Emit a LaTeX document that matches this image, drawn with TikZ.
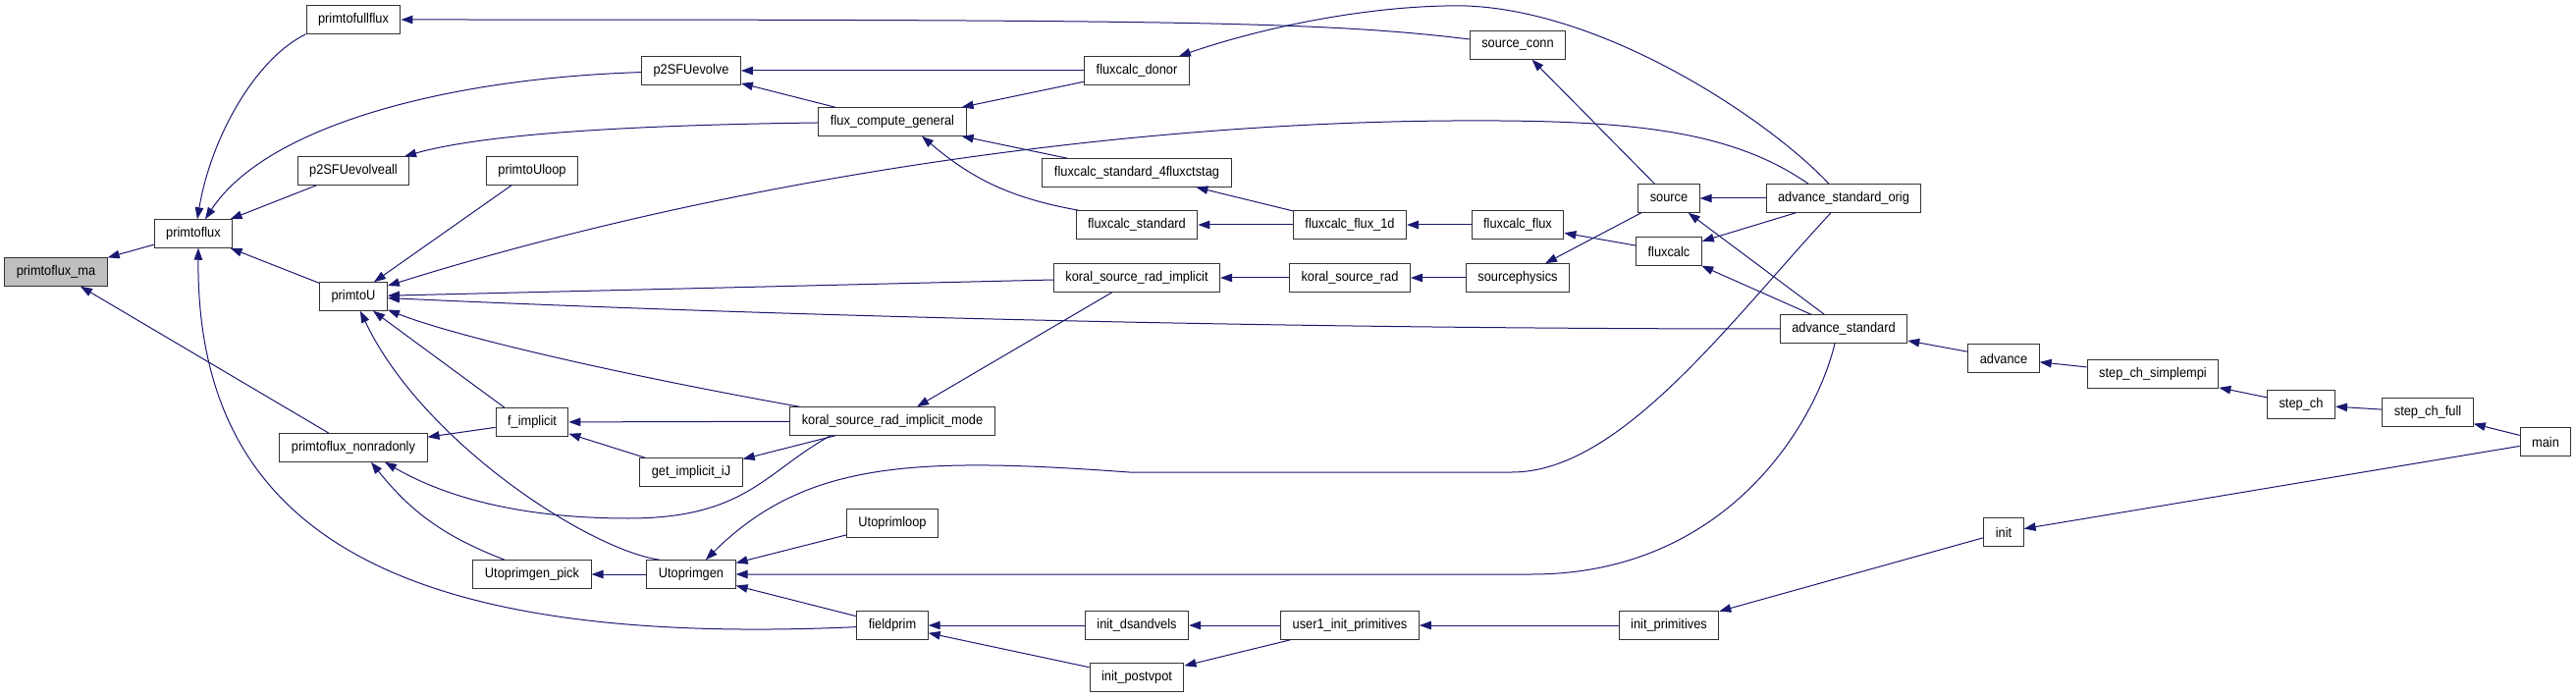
\documentclass[tikz,border=0pt]{standalone}
\usepackage{fontspec}
\setmainfont{Liberation Sans}[FakeStretch=0.915]
\usepackage{tikz}
\usetikzlibrary{arrows.meta}
\definecolor{callblue}{HTML}{191970}

\begin{document}
\begin{tikzpicture}[
    x=1pt, y=-1pt,
    func/.style={draw=black!80, fill=white, line width=1pt, inner xsep=12pt, inner ysep=0pt, minimum height=28.5pt, font=\fontsize{14}{16}\selectfont},
    rootfunc/.style={func, fill=black!25},
    call/.style={-{Triangle[length=12pt,width=8.5pt]}, draw=callblue, line width=1pt}
]
\useasboundingbox (0,0) rectangle (2624,711);

\node[rootfunc] (ma) at (57,277) {primtoflux\_ma};
\node[func] (pflux) at (197,238) {primtoflux};
\node[func] (pfull) at (360,20) {primtofullflux};
\node[func] (p2all) at (360,174) {p2SFUevolveall};
\node[func] (pU) at (360,302) {primtoU};
\node[func] (nonrad) at (360,456) {primtoflux\_nonradonly};
\node[func] (pUloop) at (542,174) {primtoUloop};
\node[func] (fimpl) at (542,430) {f\_implicit};
\node[func] (pick) at (542,585) {Utoprimgen\_pick};
\node[func] (p2) at (704,72) {p2SFUevolve};
\node[func] (iJ) at (704,481) {get\_implicit\_iJ};
\node[func] (Ugen) at (704,585) {Utoprimgen};
\node[func] (fcg) at (909,124) {flux\_compute\_general};
\node[func] (ksrim) at (909,429) {koral\_source\_rad\_implicit\_mode};
\node[func] (Uloop) at (909,533) {Utoprimloop};
\node[func] (fprim) at (909,637) {fieldprim};
\node[func] (donor) at (1158,72) {fluxcalc\_donor};
\node[func] (fcs4) at (1158,176) {fluxcalc\_standard\_4fluxctstag};
\node[func] (fcs) at (1158,229) {fluxcalc\_standard};
\node[func] (ksri) at (1158,283) {koral\_source\_rad\_implicit};
\node[func] (dsv) at (1158,637) {init\_dsandvels};
\node[func] (postv) at (1158,690) {init\_postvpot};
\node[func] (f1d) at (1375,229) {fluxcalc\_flux\_1d};
\node[func] (ksr) at (1375,283) {koral\_source\_rad};
\node[func] (u1) at (1375,637) {user1\_init\_primitives};
\node[func] (sconn) at (1546,46) {source\_conn};
\node[func] (fflux) at (1546,229) {fluxcalc\_flux};
\node[func] (sphys) at (1546,283) {sourcephysics};
\node[func] (source) at (1700,202) {source};
\node[func] (fluxcalc) at (1700,256) {fluxcalc};
\node[func] (iprim) at (1700,637) {init\_primitives};
\node[func] (aso) at (1878,202) {advance\_standard\_orig};
\node[func] (as) at (1878,335) {advance\_standard};
\node[func] (adv) at (2041,365) {advance};
\node[func] (init) at (2041,542) {init};
\node[func] (simplempi) at (2193,381) {step\_ch\_simplempi};
\node[func] (stepch) at (2344,412) {step\_ch};
\node[func] (full) at (2473,420) {step\_ch\_full};
\node[func] (main) at (2593,450) {main};

\draw[call] (pflux) -- (ma);
\draw[call] (nonrad) -- (ma);
\draw[call] (pfull.south west) .. controls (260,60) and (215,140) .. ([xshift=4pt]pflux.north);
\draw[call] (p2) .. controls (450,80) and (270,130) .. ([xshift=12pt]pflux.north);
\draw[call] (p2all) -- (pflux);
\draw[call] (pU) -- (pflux);
\draw[call] (fprim) .. controls (400,660) and (200,540) .. ([xshift=5pt]pflux.south);
\draw[call] (sconn) .. controls (1350,22) and (1200,20) .. (pfull);
\draw[call] (fcg) .. controls (600,128) and (480,140) .. (p2all);
\draw[call] (donor) -- (p2);
\draw[call] (fcg) -- (p2);
\draw[call] (donor) -- (fcg);
\draw[call] (fcs4) -- (fcg);
\draw[call] ([xshift=3pt]fcs.north west) to[bend left=15] ([xshift=30pt]fcg.south);
\draw[call] ([xshift=-15pt]aso.north) .. controls (1800,120) and (1620,0) .. (1472,6) .. controls (1380,8) and (1280,30) .. (donor);
\draw[call] (source) -- (sconn);
\draw[call] (pUloop) -- (pU);
\draw[call] ([xshift=-36pt]aso.north) .. controls (1760,130) and (1650,122) .. (1480,123) .. controls (1150,125) and (750,180) .. (pU);
\draw[call] (ksri) -- (pU);
\draw[call] (as) .. controls (1300,335) and (800,322) .. (pU);
\draw[call] ([xshift=10pt]ksrim.north west) .. controls (650,385) and (470,345) .. (pU);
\draw[call] ([xshift=-28pt]fimpl.north) -- (pU);
\draw[call] ([xshift=-32pt]Ugen.north) .. controls (600,560) and (430,450) .. (pU);
\draw[call] (fimpl) -- (nonrad);
\draw[call] ([xshift=-63pt]ksrim.south) .. controls (780,480) and (760,528) .. (640,528) .. controls (540,528) and (460,510) .. ([xshift=32pt]nonrad.south);
\draw[call] ([xshift=-28pt]pick.north) to[bend left=15] ([xshift=18pt]nonrad.south);
\draw[call] (ksrim) -- (fimpl);
\draw[call] (iJ) -- (fimpl);
\draw[call] (ksrim) -- (iJ);
\draw[call] (ksri) -- (ksrim);
\draw[call] (ksr) -- (ksri);
\draw[call] (sphys) -- (ksr);
\draw[call] (source) -- (sphys);
\draw[call] (f1d) -- (fcs4);
\draw[call] (f1d) -- (fcs);
\draw[call] (fflux) -- (f1d);
\draw[call] (fluxcalc) -- (fflux);
\draw[call] (aso) -- (source);
\draw[call] (as) -- (source);
\draw[call] (aso) -- (fluxcalc);
\draw[call] (as) -- (fluxcalc);
\draw[call] (adv) -- (as);
\draw[call] (simplempi) -- (adv);
\draw[call] (stepch) -- (simplempi);
\draw[call] (full) -- (stepch);
\draw[call] (main) -- (full);
\draw[call] (main) -- (init);
\draw[call] (init) -- (iprim);
\draw[call] (iprim) -- (u1);
\draw[call] (u1) -- (dsv);
\draw[call] (u1) -- (postv);
\draw[call] (dsv) -- (fprim);
\draw[call] (postv) -- (fprim);
\draw[call] (fprim) -- (Ugen);
\draw[call] (Uloop) -- (Ugen);
\draw[call] ([xshift=-13pt]aso.south) .. controls (1760,330) and (1650,481) .. (1540,481) -- (1150,481) .. controls (930,465) and (820,470) .. (Ugen);
\draw[call] ([xshift=-9pt]as.south) .. controls (1850,430) and (1760,585) .. (1560,585) -- (Ugen);
\draw[call] (Ugen) -- (pick);
\end{tikzpicture}
\end{document}
